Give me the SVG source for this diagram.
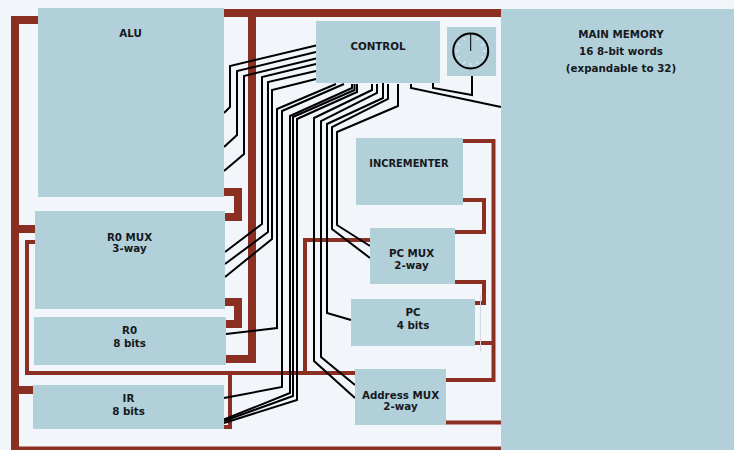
<svg xmlns="http://www.w3.org/2000/svg" width="734" height="450" viewBox="0 0 734 450">
<style>
.box{fill:#b2d0da}
.bus{fill:none;stroke:#8c2f23}
.w8{stroke-width:8}
.w4{stroke-width:4}
.sig{fill:none;stroke:#000;stroke-width:2}
.t{font-family:"DejaVu Sans",sans-serif;font-weight:bold;font-size:10.3px;fill:#16191c;text-anchor:middle}
.tick{stroke:#eef3f6;stroke-width:1}
</style>
<rect width="734" height="450" fill="#f2f6fa"/>
<g id="connectors">
<g id="buses">
<path class="bus w8" d="M38 20H15V450"/>
<path class="bus w8" d="M15 229H35"/>
<path class="bus w8" d="M15 390H33"/>
<path class="bus w8" d="M224 13H501"/>
<path class="bus w8" d="M252 13V359H226"/>
<path class="bus w8" d="M224 192H238V217H225"/>
<path class="bus w8" d="M225 302H238V324H226"/>
<path class="bus w4" d="M35 242H27V373H355"/>
<path class="bus w4" d="M230 373V427H224"/>
<path class="bus w4" d="M370 240H305V373"/>
<path class="bus w4" d="M463 141H493.500V380H446"/>
<path class="bus w4" d="M475 343H493"/>
<path class="bus w4" d="M463 200H484V232H455"/>
<path class="bus w4" d="M455 282H484V303H475"/>
<path class="bus w4" d="M446 422.500H501"/>
<path class="bus w4" d="M11 448.500H501"/>
<path d="M480.500 295V352" stroke="#d4d8dc" fill="none"/>
</g>
<g id="signals">
<path class="sig" d="M316 45.500L230 66V107L224 113"/>
<path class="sig" d="M316 52L237 71V135L224 147"/>
<path class="sig" d="M316 58.500L244 76V154L224 171"/>
<path class="sig" d="M316 64L262 77V224L225 252"/>
<path class="sig" d="M316 71L268 82V232L225 264"/>
<path class="sig" d="M316 79L272 90V239L225 277"/>
<path class="sig" d="M336 84L277 109V328L226 334"/>
<path class="sig" d="M344 84L282 111V387L224 398"/>
<path class="sig" d="M352 84V88L290 116V393L224 419.500"/>
<path class="sig" d="M354.500 84V90L293 117V396L224 421"/>
<path class="sig" d="M357 84V92L297 119V400L224 423"/>
<path class="sig" d="M372 84V90L314 118V361L355 398"/>
<path class="sig" d="M377 84V93L321 121V357L355 385"/>
<path class="sig" d="M383 82V98L327 124V313L351 320"/>
<path class="sig" d="M388 84V99L332 127V229L370 258"/>
<path class="sig" d="M398 84V106L337 132V225L370 246"/>
<path class="sig" d="M411 84V88L501 107"/>
<path class="sig" d="M433 83V88L472 95V69"/>
</g>
</g>
<g id="alu"><rect class="box" x="38" y="8" width="186" height="189"/><text class="t" x="130.500" y="37">ALU</text></g>
<g id="r0mux"><rect class="box" x="35" y="211" width="190" height="98"/><text class="t" x="129.500" y="241">R0 MUX</text><text class="t" x="129.500" y="252">3-way</text></g>
<g id="r0"><rect class="box" x="34" y="317" width="192" height="48"/><text class="t" x="129.500" y="334">R0</text><text class="t" x="129.500" y="347">8 bits</text></g>
<g id="ir"><rect class="box" x="33" y="385" width="191" height="44"/><text class="t" x="128.500" y="402">IR</text><text class="t" x="128.500" y="415">8 bits</text></g>
<g id="control"><rect class="box" x="316" y="21" width="124" height="62"/><text class="t" x="378" y="50">CONTROL</text></g>
<g id="clock"><rect class="box" x="447" y="27" width="49" height="49"/>
<circle cx="470.700" cy="51" r="17.500" fill="none" stroke="#000" stroke-width="2"/>
<path class="tick" d="M470.700 36V39M478 38L476.500 40.500M484 44L481.500 45.500M486 51H483M484 58L481.500 56.500M478 64L476.500 61.500M470.700 66V63M463.500 64L465 61.500M457.500 58L460 56.500M455.500 51H458.500M457.500 44L460 45.500M463.500 38L465 40.500"/>
<path d="M470.700 51V34" stroke="#000"/></g>
<g id="memory"><rect class="box" x="501" y="9" width="233" height="441"/><text class="t" x="621" y="38">MAIN MEMORY</text><text class="t" x="621" y="55">16 8-bit words</text><text class="t" x="621" y="72">(expandable to 32)</text></g>
<g id="incrementer"><rect class="box" x="356" y="138" width="107" height="67"/><text class="t" x="409" y="167" style="font-size:9.9px">INCREMENTER</text></g>
<g id="pcmux"><rect class="box" x="370" y="228" width="85" height="56"/><text class="t" x="411.500" y="257">PC MUX</text><text class="t" x="411.500" y="269">2-way</text></g>
<g id="pc"><rect class="box" x="351" y="299" width="124" height="47"/><text class="t" x="413" y="316">PC</text><text class="t" x="413" y="329">4 bits</text></g>
<g id="addrmux"><rect class="box" x="355" y="369" width="91" height="56"/><text class="t" x="400.500" y="399">Address MUX</text><text class="t" x="400.500" y="410">2-way</text></g>
</svg>
